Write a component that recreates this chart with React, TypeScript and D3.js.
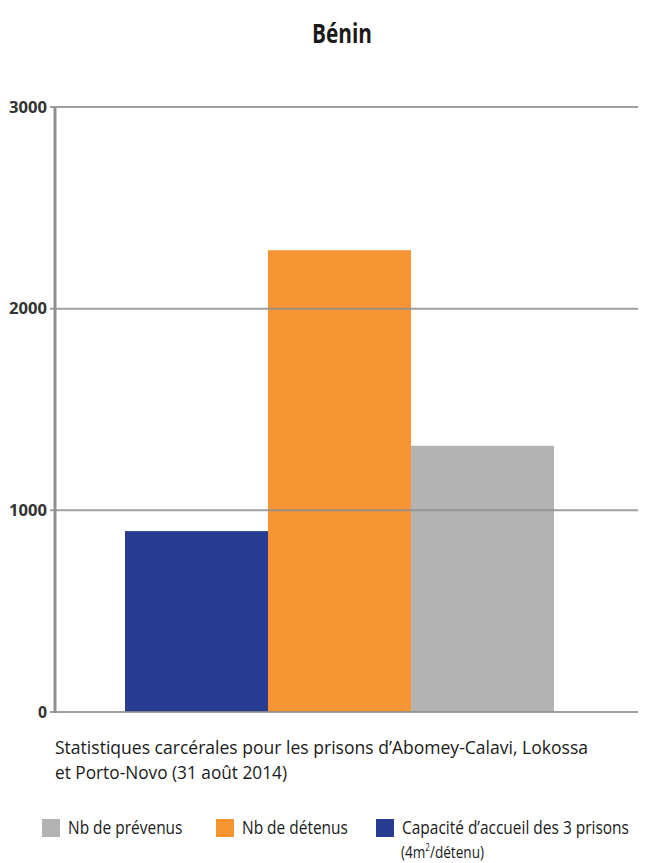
import React from "react";
import * as d3 from "d3";

const categories = ["Capacité d'accueil des 3 prisons", "Nb de détenus", "Nb de prévenus"];
const values = [897, 2290, 1320];
const colors = ["#283c92", "#f79433", "#b3b3b3"];
const yTicks = [0, 1000, 2000, 3000];
const legendItems = [
  { label: "Nb de prévenus", color: "#b3b3b3", x: 42 },
  { label: "Nb de détenus", color: "#f79433", x: 216 },
  { label: "Capacité d’accueil des 3 prisons", color: "#283c92", x: 376 },
];

const FONT = "'Open Sans', 'DejaVu Sans', sans-serif";

export default function App() {
  const W = 649, H = 863;
  const left = 55, right = 638, top = 107, bottom = 712;
  const y = d3.scaleLinear().domain([0, 3000]).range([bottom, top]);
  const x = d3.scaleBand().domain(categories).range([125, 554]).padding(0);
  return (
    <svg width={W} height={H} style={{ position: "absolute", left: 0, top: 0, background: "#fff" }} fontFamily={FONT}>
      <text x={312} y={43} fontSize={26} fontWeight="bold" fill="#1a1a1a" textLength={60} lengthAdjust="spacingAndGlyphs">Bénin</text>
      {categories.map((c, i) => (
        <rect key={c} x={x(c)} y={y(values[i])} width={x.bandwidth()} height={y(0) - y(values[i])} fill={colors[i]} />
      ))}
      {yTicks.map((t) => (
        <g key={t}>
          <line x1={left - 5} x2={right} y1={y(t)} y2={y(t)} stroke="#8f8f8f" strokeWidth={2} opacity={0.85} />
          <text x={left - 8} y={y(t)} dy="0.35em" textAnchor="end" fontSize={16} fontWeight="bold" fill="#333"
            textLength={t === 0 ? 9 : 38} lengthAdjust="spacingAndGlyphs">{t}</text>
        </g>
      ))}
      <line x1={left} x2={left} y1={top} y2={bottom + 1} stroke="#8f8f8f" strokeWidth={3} />
      <text x={55} y={754} fontSize={19} fill="#1a1a1a" textLength={533} lengthAdjust="spacingAndGlyphs">Statistiques carcérales pour les prisons d’Abomey-Calavi, Lokossa</text>
      <text x={55} y={779} fontSize={19} fill="#1a1a1a" textLength={232} lengthAdjust="spacingAndGlyphs">et Porto-Novo (31 août 2014)</text>
      {legendItems.map((d) => (
        <g key={d.label}>
          <rect x={d.x} y={819} width={18} height={18} fill={d.color} />
          <g transform={`translate(${d.x + 26},834) scale(0.86,1)`}>
            <text x={0} y={0} fontSize={18} fill="#1a1a1a">{d.label}</text>
          </g>
        </g>
      ))}
      <g transform="translate(401,858) scale(0.8,1)">
        <text x={0} y={0} fontSize={17} fill="#1a1a1a">(4m<tspan fontSize={10} dy={-7}>2</tspan><tspan dy={7}>/détenu)</tspan></text>
      </g>
    </svg>
  );
}
